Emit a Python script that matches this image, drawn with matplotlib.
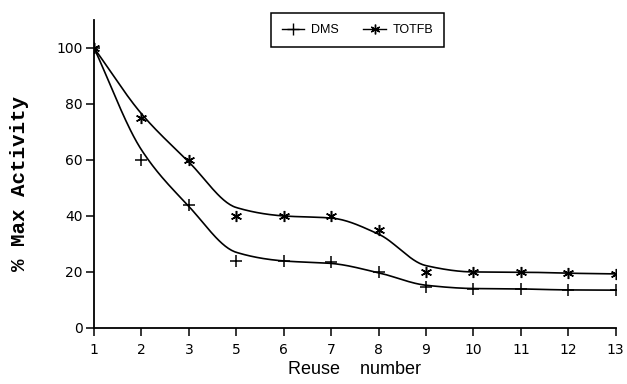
import numpy as np
import matplotlib
matplotlib.use("Agg")
import matplotlib.pyplot as plt
from matplotlib.lines import Line2D

# reuse number labels as printed on the axis (note: no "4")
reuse_labels = ["1", "2", "3", "5", "6", "7", "8", "9", "10", "11", "12", "13"]
dms = [100, 60, 44, 24, 24, 23.5, 20, 14.5, 14, 14, 13.5, 13.5]
totfb = [100, 75, 60, 40, 40, 40, 35, 20, 20, 20, 19.5, 19.3]


def pchip(xs, ys, n=30):
    # monotone cubic through the nodes, no overshoot
    xs = np.asarray(xs, float)
    ys = np.asarray(ys, float)
    h = np.diff(xs)
    d = np.diff(ys) / h
    m = np.zeros_like(ys)
    for i in range(1, len(ys) - 1):
        if d[i - 1] * d[i] > 0:
            w1 = 2 * h[i] + h[i - 1]
            w2 = h[i] + 2 * h[i - 1]
            m[i] = (w1 + w2) / (w1 / d[i - 1] + w2 / d[i])
    m[0] = d[0]
    m[-1] = d[-1]
    out_x, out_y = [], []
    t = np.linspace(0, 1, n, endpoint=False)
    for i in range(len(xs) - 1):
        h00 = 2 * t ** 3 - 3 * t ** 2 + 1
        h10 = t ** 3 - 2 * t ** 2 + t
        h01 = -2 * t ** 3 + 3 * t ** 2
        h11 = t ** 3 - t ** 2
        out_x.extend(xs[i] + t * h[i])
        out_y.extend(h00 * ys[i] + h10 * h[i] * m[i]
                     + h01 * ys[i + 1] + h11 * h[i] * m[i + 1])
    out_x.append(xs[-1])
    out_y.append(ys[-1])
    return np.array(out_x), np.array(out_y)


def fitted(ys):
    # light smoothing of the readings, ends kept
    ys = np.asarray(ys, float)
    s = ys.copy()
    s[1:-1] = 0.15 * ys[:-2] + 0.7 * ys[1:-1] + 0.15 * ys[2:]
    return s


x = np.arange(len(reuse_labels))

fig = plt.figure(figsize=(6.27, 3.84), dpi=100)
ax = fig.add_axes([0.15, 0.146, 0.832, 0.802])

ast = (6, 2, 0)
for ys, mk, ms in ((dms, "+", 8), (totfb, ast, 8)):
    cx, cy = pchip(x, fitted(ys))
    ax.plot(cx, cy, color="black", lw=1.2)
    ax.plot(x, ys, linestyle="none", marker=mk, ms=ms, mec="black",
            mew=1.1, color="black")

ax.set_xlim(0, len(reuse_labels) - 1)
ax.set_ylim(0, 110)
ax.set_xticks(x)
ax.set_xticklabels(reuse_labels, fontsize=10, family="DejaVu Sans")
ax.set_yticks(range(0, 101, 20))
ax.set_yticklabels([str(v) for v in range(0, 101, 20)], fontsize=10,
                   family="DejaVu Sans")
ax.tick_params(direction="out", length=6, width=1.1, color="black")
ax.tick_params(axis="y", pad=2)
ax.tick_params(axis="x", pad=5)
for s in ("top", "right"):
    ax.spines[s].set_visible(False)
for s in ("left", "bottom"):
    ax.spines[s].set_linewidth(1.3)

ax.set_xlabel("Reuse    number", fontsize=13, family="Liberation Sans",
              labelpad=3)
ax.set_ylabel("% Max Activity", fontsize=15, family="Liberation Mono",
              fontweight="bold")
ax.yaxis.set_label_coords(-0.125, 0.47)

handles = [
    Line2D([], [], color="black", lw=1, marker="+", ms=8, mew=1),
    Line2D([], [], color="black", lw=1, marker=ast, ms=7, mew=1),
]
leg = ax.legend(handles, ["DMS", "TOTFB"], loc="upper center",
                bbox_to_anchor=(0.505, 1.043), ncol=2, fancybox=False,
                edgecolor="black", framealpha=1, handlelength=1.8,
                borderpad=0.9, columnspacing=2.0, handletextpad=0.5,
                prop={"family": "Liberation Sans", "size": 9})
leg.get_frame().set_linewidth(1.1)

fig.savefig("out.png", dpi=100)
